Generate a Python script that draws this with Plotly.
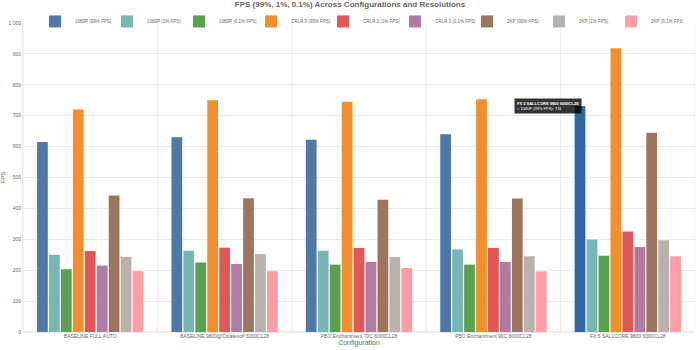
import plotly.graph_objects as go

configurations = [
    "BASELINE FULL AUTO",
    "BASELINE 9800@Cstatesoff 6000CL28",
    "PBO Enchantment 70C 6000CL28",
    "PBO Enchantment 90C 6000CL28",
    "FX 5 SALLCORE 9800 6000CL28",
]

series_names = [
    "1080P (99% FPS)", "1080P (1% FPS)", "1080P (0.1% FPS)",
    "CRU4.3 (99% FPS)", "CRU4.3 (1% FPS)", "CRU4.3 (0.1% FPS)",
    "2KP (99% FPS)", "2KP (1% FPS)", "2KP (0.1% FPS)",
]

p1080_99 = [615, 630, 622, 640, 731]
p1080_1 = [250, 263, 263, 267, 299]
p1080_01 = [203, 225, 218, 218, 247]
cru_99 = [720, 750, 745, 753, 918]
cru_1 = [262, 273, 272, 272, 325]
cru_01 = [215, 220, 227, 227, 275]
k2_99 = [442, 433, 428, 432, 645]
k2_1 = [243, 252, 243, 245, 297]
k2_01 = [197, 197, 207, 196, 245]

series_values = [p1080_99, p1080_1, p1080_01, cru_99, cru_1, cru_01, k2_99, k2_1, k2_01]

colors = ["#4e79a7", "#76b7b2", "#59a14f", "#f28e2b", "#e15759",
          "#b07aa1", "#9c755f", "#bab0ac", "#ff9da7"]
hover_color = "#3066a8"

y_tick_vals = [0, 100, 200, 300, 400, 500, 600, 700, 800, 900, 1000]
y_tick_text = ["0", "100", "200", "300", "400", "500", "600", "700", "800", "900", "1 000"]

FONT = "Liberation Sans, Arial, Helvetica, sans-serif"
GRID = "rgba(0,0,0,0.08)"
TXT = "#666666"

fig = go.Figure()
for i, (name, vals) in enumerate(zip(series_names, series_values)):
    col = colors[i]
    if i == 0:
        col = [colors[0]] * (len(vals) - 1) + [hover_color]
    fig.add_trace(go.Bar(
        name=name, x=configurations, y=vals,
        marker=dict(color=col, line=dict(width=0)),
    ))

shapes = []
for k in range(len(configurations) + 1):
    shapes.append(dict(type="line", xref="x", yref="paper",
                       x0=k - 0.5, x1=k - 0.5, y0=0, y1=1,
                       line=dict(color=GRID, width=1), layer="below"))

fig.update_layout(
    width=700, height=350,
    margin=dict(l=23, r=5, t=23, b=18, autoexpand=False),
    paper_bgcolor="white", plot_bgcolor="white",
    font=dict(family=FONT, size=6, color=TXT),
    barmode="group", bargap=0.2, bargroupgap=0.1,
    title=dict(text="<b>FPS (99%, 1%, 0.1%) Across Configurations and Resolutions</b>",
               x=0.5, xanchor="center", y=0.995, yanchor="top",
               font=dict(size=8, color=TXT, family=FONT)),
    legend=dict(orientation="h", x=0.5, xanchor="center", y=1.052, yanchor="top",
                font=dict(size=4.5, color=TXT), itemwidth=30, entrywidth=27,
                tracegroupgap=0, bgcolor="rgba(0,0,0,0)"),
    shapes=shapes,
    showlegend=True,
)
fig.update_xaxes(
    type="category", range=[-0.5, len(configurations) - 0.5],
    showgrid=False, zeroline=False, showline=False,
    tickfont=dict(size=5, color=TXT), ticks="",
    title=dict(text="Configuration", font=dict(size=7, color=TXT), standoff=2),
)
fig.update_yaxes(
    range=[0, 1000], tickvals=y_tick_vals, ticktext=y_tick_text,
    showgrid=True, gridcolor=GRID, zeroline=True, zerolinecolor=GRID,
    showline=True, linecolor=GRID,
    tickfont=dict(size=5, color=TXT), ticks="",
    title=dict(text="FPS", font=dict(size=6, color=TXT), standoff=4),
)

fig.add_annotation(
    x=configurations[4], y=p1080_99[4], xref="x", yref="y",
    text="<b>FX 5 SALLCORE 9800 6000CL28</b><br>"
         "<span style='color:#4e79a7'>■</span> 1080P (99% FPS): 731",
    showarrow=False, xanchor="right", yanchor="middle", xshift=-46, align="left",
    bgcolor="rgba(0,0,0,0.8)", borderpad=2,
    font=dict(size=4, color="white", family=FONT),
)

fig.write_html("out.html")
